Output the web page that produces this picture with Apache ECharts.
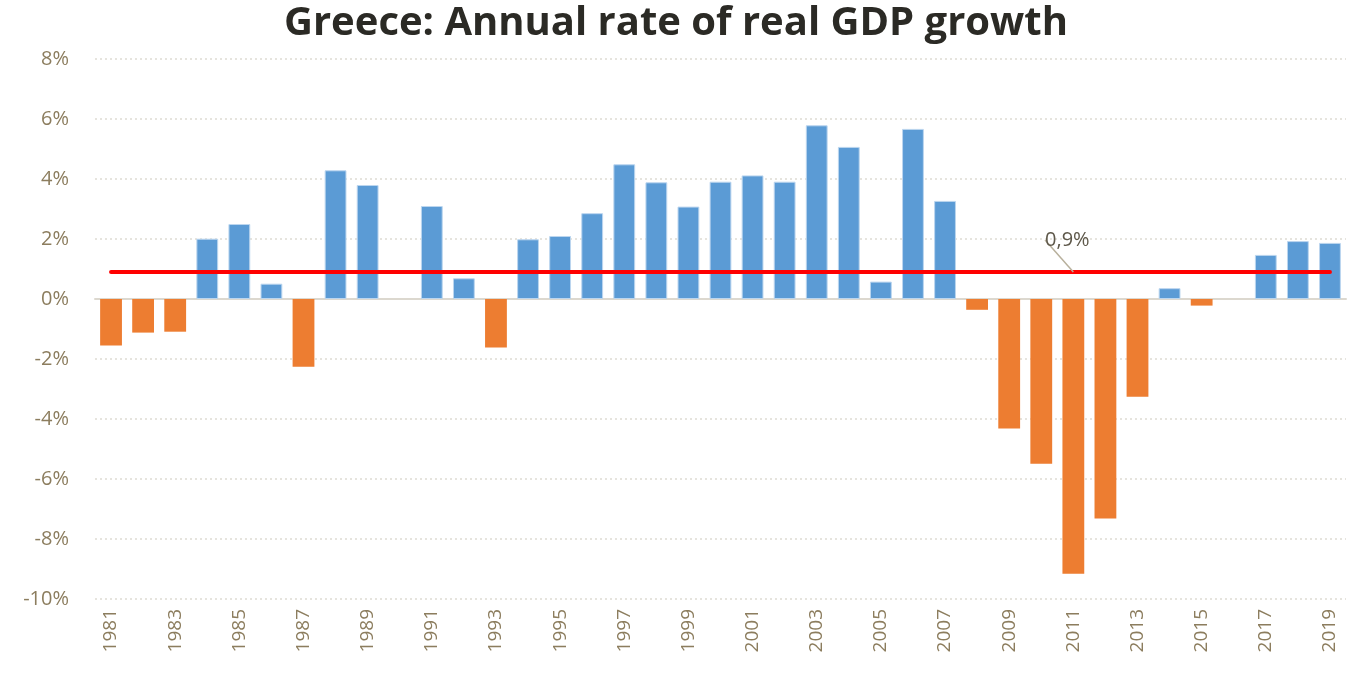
<!DOCTYPE html>
<html><head><meta charset="utf-8">
<script src="https://cdn.jsdelivr.net/npm/echarts@6/dist/echarts.min.js"></script>
<style>html,body{margin:0;padding:0;background:#fff}#c{width:1352px;height:676px}</style>
</head><body><div id="c"></div>
<script>
const years = ['1981','1982','1983','1984','1985','1986','1987','1988','1989','1990','1991','1992','1993','1994','1995','1996','1997','1998','1999','2000','2001','2002','2003','2004','2005','2006','2007','2008','2009','2010','2011','2012','2013','2014','2015','2016','2017','2018','2019'];
const growth = [-1.55,-1.12,-1.09,2.01,2.50,0.51,-2.26,4.29,3.80,0.0,3.10,0.69,-1.62,1.99,2.10,2.86,4.49,3.89,3.08,3.91,4.12,3.91,5.79,5.07,0.58,5.67,3.27,-0.36,-4.32,-5.49,-9.16,-7.32,-3.26,0.36,-0.22,0.0,1.47,1.93,1.87];
const average = 0.9;
const avgLine = years.map(() => average);
const labelYear = '2011';
const labelText = '0,9%';

const barData = growth.map(v => ({
  value: v,
  itemStyle: v > 0 ? {color: '#5b9bd5', borderColor: '#bcd6ef', borderWidth: 1}
           : v < 0 ? {color: '#ed7d31', borderWidth: 0}
           : {color: 'rgba(0,0,0,0)', borderWidth: 0}
}));

const chart = echarts.init(document.getElementById('c'));
chart.setOption({
  animation: false,
  title: {
    text: 'Greece: Annual rate of real GDP growth',
    left: 'center', top: -1,
    textStyle: {fontFamily: 'Open Sans', fontWeight: 'bold', fontSize: 40, color: '#2b2a25'}
  },
  grid: {left: 95, right: 6, top: 59, bottom: 77},
  xAxis: {
    type: 'category', data: years,
    axisTick: {show: false},
    axisLine: {lineStyle: {color: '#dcd8cf', width: 2}},
    axisLabel: {interval: 1, rotate: 90, color: '#8c7d5e', fontFamily: 'Open Sans', fontSize: 19, margin: 10}
  },
  yAxis: {
    type: 'value', min: -10, max: 8, interval: 2,
    axisLabel: {formatter: v => v + '%', color: '#8c7d5e', fontFamily: 'Open Sans', fontSize: 20, margin: 26},
    splitLine: {lineStyle: {color: '#dedbd4', type: [2, 3], width: 1.5}},
    axisLine: {show: false}, axisTick: {show: false}
  },
  series: [
    {
      type: 'bar', data: barData, barWidth: '68%'
    },
    {
      type: 'line',
      data: avgLine.map((v, i) => years[i] === labelYear ? {
        value: v,
        label: {show: true, formatter: () => labelText, position: 'top', distance: 20,
          color: '#5e584a', fontFamily: 'Open Sans', fontSize: 20},
        labelLine: {show: true, lineStyle: {color: '#b8b09c', width: 1.5}}
      } : v),
      symbol: 'circle', symbolSize: 0, showSymbol: true,
      itemStyle: {color: '#ff0000'},
      lineStyle: {color: '#ff0000', width: 4, cap: 'round'},
      labelLayout: {dx: -6, dy: -2},
      labelLine: {show: true, lineStyle: {color: '#b8b09c', width: 1.5}},
      z: 5
    }
  ]
});
</script></body></html>
